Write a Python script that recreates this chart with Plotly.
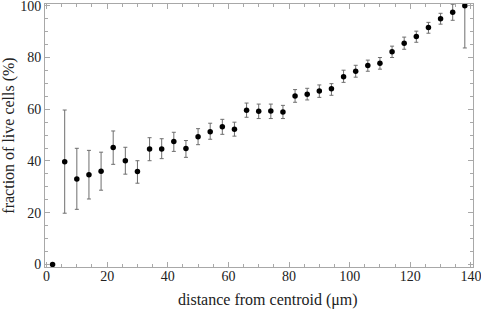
import plotly.graph_objects as go

distance = [2, 6, 10, 14, 18, 22, 26, 30, 34, 38, 42, 46, 50, 54, 58, 62, 66, 70,
            74, 78, 82, 86, 90, 94, 98, 102, 106, 110, 114, 118, 122, 126, 130, 134, 138]
fraction = [0, 39.7, 33.0, 34.7, 36.0, 45.2, 40.1, 35.9, 44.6, 44.6, 47.5, 44.8, 49.4, 51.3,
            53.2, 52.3, 59.6, 59.2, 59.3, 58.9, 65.1, 65.8, 67.1, 67.9, 72.6, 74.7, 76.9,
            77.8, 82.2, 85.5, 88.1, 91.6, 95.0, 97.5, 100.0]
err_upper = [0, 59.7, 44.9, 44.1, 43.4, 51.6, 45.3, 40.1, 49.0, 48.6, 51.1, 47.9, 52.5, 54.6,
             56.1, 55.0, 62.4, 62.0, 62.0, 61.5, 67.6, 68.1, 69.4, 69.9, 75.1, 77.0, 79.0,
             80.0, 84.4, 87.9, 90.2, 93.6, 97.1, 100.6, 100.0]
err_lower = [0, 19.8, 21.3, 25.3, 28.7, 38.7, 34.9, 31.4, 40.1, 40.9, 43.7, 41.4, 46.3, 48.4,
             50.3, 49.6, 56.9, 56.4, 56.4, 56.4, 62.7, 63.6, 64.6, 65.4, 70.4, 72.4, 74.7,
             75.5, 80.0, 83.2, 85.9, 89.4, 92.9, 94.4, 83.7]

plus = [u - f for u, f in zip(err_upper, fraction)]
minus = [f - l for f, l in zip(fraction, err_lower)]

font_family = "Liberation Serif, Times New Roman, serif"

fig = go.Figure()
fig.add_trace(go.Scatter(
    x=distance, y=fraction, mode="markers",
    marker=dict(color="black", size=5.5),
    error_y=dict(type="data", symmetric=False, array=plus, arrayminus=minus,
                 color="#6e6e6e", thickness=1, width=2),
    cliponaxis=False,
    showlegend=False,
))

axis_common = dict(
    showgrid=False, zeroline=False, showline=True, linecolor="#a8a8a8", linewidth=1,
    mirror="allticks", ticks="inside", ticklen=5, tickcolor="#a8a8a8", tickwidth=1,
    tickfont=dict(family=font_family, size=14, color="#222"), automargin=False,
    ticklabeloverflow="allow",
)

fig.update_xaxes(
    **axis_common, range=[-0.5, 140.7], tickmode="array",
    tickvals=[0, 20, 40, 60, 80, 100, 120, 140],
    ticklabelstandoff=-4,
    minor=dict(dtick=5, tick0=0, ticks="inside", ticklen=3, tickcolor="#a8a8a8"),
)
fig.update_yaxes(
    **axis_common, range=[-1, 100.7], tickmode="array",
    tickvals=[0, 20, 40, 60, 80, 100],
    minor=dict(dtick=5, tick0=0, ticks="inside", ticklen=3, tickcolor="#a8a8a8"),
    title=dict(text="fraction of live cells (%)", font=dict(family=font_family, size=16, color="#222"), standoff=4),
)

fig.add_annotation(
    text="distance from centroid (μm)", xref="paper", yref="paper",
    x=0.521, y=-0.125, xanchor="center", yanchor="middle", showarrow=False,
    font=dict(family=font_family, size=16, color="#222"),
)

fig.update_layout(
    width=481, height=311,
    margin=dict(l=45, r=8, t=4, b=44),
    plot_bgcolor="white", paper_bgcolor="white",
)

fig.write_html("out.html", config={"displayModeBar": False},
               post_script="document.body.style.margin='0';document.body.style.overflow='hidden';")
